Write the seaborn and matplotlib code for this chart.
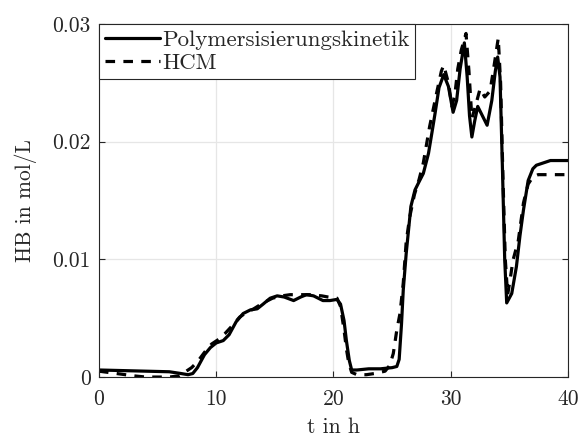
import numpy as np
import pandas as pd
import seaborn as sns
import matplotlib
matplotlib.use("Agg")
import matplotlib.pyplot as plt
from matplotlib.ticker import FixedLocator

# Polymerisation kinetics model (time in h, HB in mol/L)
t_kin = [0, 2, 4, 6, 7, 7.6, 8.0, 8.4, 9.0, 9.5, 10.0, 10.6, 11.1, 11.7, 12.3,
         12.9, 13.5, 14.0, 14.6, 15.2, 15.8, 16.6, 17.2, 17.7, 18.3, 19.1, 19.7,
         20.3, 20.6, 20.9, 21.1, 21.35, 21.55, 22, 23, 24, 25, 25.4, 25.6, 25.8,
         25.95, 26.2, 26.4, 26.6, 26.95, 27.3, 27.66, 28.1, 28.4, 28.66, 29.0,
         29.4, 29.8, 30.2, 30.5, 30.8, 31.16, 31.4, 31.6, 31.8, 32.05, 32.3, 32.7,
         33.1, 33.5, 33.8, 34.0, 34.2, 34.4, 34.6, 34.77, 35.2, 35.6, 35.9, 36.2,
         36.6, 37.0, 37.3, 38.5, 40]
hb_kin = [0.0006, 0.00055, 0.0005, 0.00045, 0.0003, 0.0002, 0.0003, 0.0008,
          0.0019, 0.0025, 0.0029, 0.0031, 0.0036, 0.0047, 0.0054, 0.0057, 0.0058,
          0.0062, 0.0067, 0.0069, 0.0068, 0.0065, 0.0068, 0.0070, 0.0069, 0.0065,
          0.0065, 0.0066, 0.0062, 0.0048, 0.0031, 0.0014, 0.0006, 0.0006, 0.0007,
          0.0007, 0.0008, 0.0009, 0.0015, 0.0045, 0.0074, 0.0105, 0.0125, 0.0145,
          0.0159, 0.0166, 0.0173, 0.0190, 0.0208, 0.0224, 0.0246, 0.0257, 0.0247,
          0.0225, 0.0235, 0.0262, 0.0284, 0.0255, 0.0222, 0.0204, 0.0218, 0.0230,
          0.0222, 0.0214, 0.0235, 0.0260, 0.0272, 0.0255, 0.0180, 0.0100, 0.0063,
          0.0071, 0.0094, 0.0120, 0.0142, 0.0167, 0.0177, 0.0180, 0.0184, 0.0184]

# HCM model
t_hcm = [0, 1.5, 3, 4, 6, 6.8, 7.3, 7.9, 8.4, 9.0, 9.6, 10.2, 10.75, 11.4, 12.0,
         12.6, 13.2, 14.0, 14.8, 15.6, 16.3, 17.2, 18.0, 19.0, 19.55, 20.3, 20.6,
         20.9, 21.1, 21.3, 21.55, 22.0, 22.8, 23.5, 24.4, 24.8, 25.1, 25.4, 25.67,
         25.95, 26.2, 26.5, 26.9, 27.3, 27.66, 28.2, 28.85, 29.2, 29.4, 29.8, 30.1,
         30.35, 30.6, 30.9, 31.3, 31.55, 31.8, 32.1, 32.5, 32.9, 33.35, 33.7, 34.05,
         34.25, 34.45, 34.65, 34.85, 35.05, 35.3, 35.76, 36.2, 36.6, 37.0, 37.45, 40]
hb_hcm = [0.0005, 0.0003, 0.0001, 0.0, 0.0, 0.0001, 0.0004, 0.0008, 0.0013,
          0.0021, 0.0028, 0.0032, 0.0037, 0.0044, 0.0051, 0.0055, 0.0058, 0.0063,
          0.0067, 0.0069, 0.0070, 0.0070, 0.0070, 0.0069, 0.0068, 0.0067, 0.0060,
          0.0040, 0.0024, 0.0012, 0.0004, 0.0002, 0.0002, 0.0003, 0.0005, 0.0010,
          0.0020, 0.0040, 0.0054, 0.0080, 0.0115, 0.0136, 0.0155, 0.0168, 0.0182,
          0.0213, 0.0244, 0.0260, 0.0265, 0.0250, 0.0230, 0.0240, 0.0262, 0.0278,
          0.0292, 0.0260, 0.0220, 0.0230, 0.0245, 0.0238, 0.0243, 0.0265, 0.0288,
          0.0250, 0.0170, 0.0100, 0.0070, 0.0082, 0.0099, 0.0116, 0.0148, 0.0164,
          0.0170, 0.0172, 0.0172]

series_names = ["Polymersisierungskinetik", "HCM"]
x_ticks = [0, 10, 20, 30, 40]
y_ticks = [0, 0.01, 0.02, 0.03]
y_tick_labels = ["0", "0.01", "0.02", "0.03"]

sns.set_style("whitegrid")
plt.rcParams["font.family"] = "serif"
plt.rcParams["font.serif"] = ["cmr10", "DejaVu Serif"]
plt.rcParams["mathtext.fontset"] = "cm"
plt.rcParams["axes.formatter.use_mathtext"] = True

df = pd.concat([
    pd.DataFrame({"t": t_kin, "HB": hb_kin, "Modell": series_names[0]}),
    pd.DataFrame({"t": t_hcm, "HB": hb_hcm, "Modell": series_names[1]}),
], ignore_index=True)

fig = plt.figure(figsize=(5.82, 4.41), dpi=100)
ax = fig.add_axes([0.170, 0.145, 0.806, 0.8005])

sns.lineplot(data=df, x="t", y="HB", hue="Modell", style="Modell",
             palette={series_names[0]: "black", series_names[1]: "black"},
             dashes={series_names[0]: "", series_names[1]: (3, 2.6)},
             linewidth=2.3, sort=False, estimator=None, ax=ax)

ax.set_xlim(0, 40)
ax.set_ylim(0, 0.03)
ax.xaxis.set_major_locator(FixedLocator(x_ticks))
ax.yaxis.set_major_locator(FixedLocator(y_ticks))
ax.set_yticklabels(y_tick_labels)
ax.set_xticklabels([str(v) for v in x_ticks])

ax.grid(True, color="#e6e6e6", linewidth=0.9)
for sp in ax.spines.values():
    sp.set_color("#262626")
    sp.set_linewidth(0.8)
    sp.set_visible(True)
ax.tick_params(direction="in", length=4, width=0.8, colors="#262626",
               labelsize=15.5, labelcolor="#262626", top=False, right=True,
               left=True, bottom=True)
ax.tick_params(axis="x", pad=9)
ax.tick_params(axis="y", pad=6)

ax.set_xlabel("t in h", fontsize=15.5, color="#262626", labelpad=6)
ax.set_ylabel("HB in mol/L", fontsize=15.5, color="#262626", labelpad=11)

leg = ax.legend(loc="upper left", borderaxespad=0, fontsize=16.5, frameon=True,
                fancybox=False, framealpha=1, edgecolor="#262626",
                handlelength=2.4, handletextpad=0.1, borderpad=0.25,
                labelspacing=0.15)
leg.get_frame().set_linewidth(0.8)

fig.savefig("out.png", dpi=100)
